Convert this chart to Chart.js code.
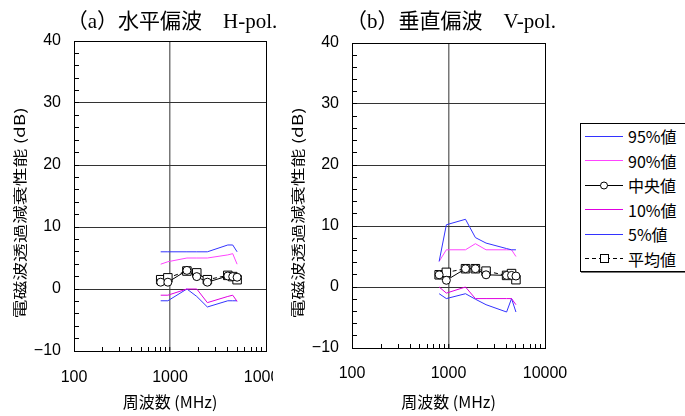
<!DOCTYPE html>
<html><head><meta charset="utf-8">
<script src="https://cdn.jsdelivr.net/npm/chart.js@4.4.0/dist/chart.umd.min.js"></script>
<style>
html,body{margin:0;padding:0;background:#fff;}
#wrap{position:relative;width:685px;height:416px;overflow:hidden;background:#fff;}
canvas{position:absolute;top:0;}
#cA{left:0;}
#cB{left:273px;}
.ttl{position:absolute;top:8px;line-height:26px;white-space:nowrap;font-size:21px;font-family:'Liberation Serif','Noto Sans CJK JP',serif;color:#000;transform:translateX(-50%);}
#legend{position:absolute;left:580px;top:123px;width:120px;border:1px solid #000;box-shadow:1px 1px 0 #777;background:#fff;}
#legend .row{display:flex;align-items:center;font:16px 'Noto Sans CJK JP',sans-serif;color:#000;}
#legend svg{margin-left:4px;margin-right:5px;flex:none;display:block;}
</style></head>
<body><div id="wrap">
<canvas id="cA" width="273" height="416"></canvas>
<canvas id="cB" width="300" height="416"></canvas>
<div class="ttl" id="tA" style="left:172px"></div>
<div class="ttl" id="tB" style="left:451px"></div>
<div id="legend"></div>
</div>
<script>
// ---- data ----
const freqMHz = [800, 950, 1500, 1900, 2450, 4000, 4500, 5000];
const seriesNames = ['95%値', '90%値', '中央値', '10%値', '5%値', '平均値'];
// (a) horizontal polarisation
const hP95  = [6.0, 6.0, 6.0, 6.0, 6.0, 7.1, 7.1, 6.0];
const hP90  = [4.0, 4.4, 5.0, 5.0, 5.0, 5.5, 5.7, 4.0];
const hMed  = [1.1, 1.1, 3.0, 2.0, 1.1, 2.1, 2.0, 1.9];
const hP10  = [-1.0, -1.0, 0.0, 0.0, -2.2, -1.2, -1.0, -2.0];
const hP5   = [-1.9, -1.9, 0.0, -1.2, -2.9, -1.9, -1.9, -1.9];
const hMean = [1.5, 1.8, 2.9, 2.6, 1.5, 2.2, 2.0, 1.5];
// (b) vertical polarisation
const vP95  = [4.2, 10.2, 11.1, 8.1, 7.2, 6.3, 6.1, 6.1];
const vP90  = [4.2, 6.1, 6.1, 7.1, 6.1, 6.1, 6.1, 5.0];
const vMed  = [2.0, 1.1, 3.0, 3.0, 2.0, 1.9, 1.9, 1.8];
const vP10  = [0.0, -1.0, 0.0, -1.9, -1.9, -1.9, -1.9, -2.9];
const vP5   = [-1.1, -1.9, -1.1, -2.0, -2.9, -4.1, -1.9, -4.1];
const vMean = [2.0, 2.4, 3.0, 3.0, 2.6, 1.9, 2.2, 1.2];
// ticks / labels
const xTickLabels = [100, 1000, 10000];
const xTickMarks = [100, 200, 300, 400, 500, 600, 700, 800, 900, 1000, 2000, 3000, 4000, 5000, 6000, 7000, 8000, 9000, 10000];
const yTickLabels = [-10, 0, 10, 20, 30, 40];
const titleA = '（a）水平偏波　H-pol.';
const titleB = '（b）垂直偏波　V-pol.';
const xTitle = '周波数 (MHz)';
const yTitle = '電磁波透過減衰性能 (dB)';

// ---- styles ----
const seriesStyle = [
  {color:'#3333ff', point:false, dash:[]},
  {color:'#ff44ff', point:false, dash:[]},
  {color:'#000000', point:'circle', radius:4, dash:[]},
  {color:'#e000e0', point:false, dash:[]},
  {color:'#3333ff', point:false, dash:[]},
  {color:'#000000', point:'rect', radius:6, dash:[4,3]}
];
const legendRowHeights = [24, 25, 24, 25, 24, 25];

function makeDatasets(arrs){
  return arrs.map((vals, i) => {
    const st = seriesStyle[i];
    return {
      label: seriesNames[i],
      data: freqMHz.map((f, k) => ({x: f, y: vals[k]})),
      borderColor: st.color,
      backgroundColor: '#ffffff',
      borderWidth: 1,
      borderDash: st.dash,
      pointStyle: st.point || 'circle',
      pointRadius: st.point ? st.radius : 0,
      pointBorderColor: st.color,
      pointBackgroundColor: '#ffffff',
      pointBorderWidth: 1,
      tension: 0,
      fill: false
    };
  });
}

const yTitlePlugin = {
  id: 'ytitle',
  afterDraw(chart, args, o){
    const ctx = chart.ctx;
    ctx.save();
    ctx.translate(o.x, o.y);
    ctx.rotate(-Math.PI/2);
    ctx.scale(1.35, 1);
    ctx.font = "14px 'Noto Sans CJK JP'";
    ctx.fillStyle = '#000';
    ctx.textAlign = 'center';
    ctx.textBaseline = 'middle';
    ctx.fillText(o.text, 0, 0);
    ctx.restore();
  }
};

function fmtY(v){ return v < 0 ? '\u2212' + Math.abs(v) : String(v); }

function makeChart(id, arrs, lay){
  return new Chart(document.getElementById(id), {
    type: 'line',
    data: {datasets: makeDatasets(arrs)},
    plugins: [yTitlePlugin],
    options: {
      responsive: false, animation: false, devicePixelRatio: 1,
      layout: {padding: {top: lay.top, right: lay.right, left: 0, bottom: 0}},
      plugins: {
        legend: {display: false}, tooltip: {enabled: false}, title: {display: false},
        ytitle: {x: lay.ytx, y: 213, text: yTitle}
      },
      scales: {
        x: {
          type: 'logarithmic', position: 'bottom', min: 100, max: 10000,
          afterBuildTicks: s => { s.ticks = xTickMarks.map(v => ({value: v})); },
          afterFit: s => { s.height = lay.xh; s.paddingLeft = 0; s.paddingRight = 0; },
          ticks: {autoSkip: false, maxRotation: 0, minRotation: 0, padding: lay.xpad, color: '#000',
                  font: {family: 'Liberation Sans', size: 16},
                  callback: v => xTickLabels.includes(v) ? String(v) : ''},
          grid: {drawTicks: true, tickLength: -4, tickColor: '#000', tickWidth: 1,
                 color: c => c.tick && c.tick.value === 1000 ? '#777777' : (c.tick && c.tick.value === 10000 ? '#000' : 'rgba(0,0,0,0)'),
                 lineWidth: c => c.tick && c.tick.value === 1000 ? 1.5 : 1},
          border: {color: '#000', width: 1},
          title: {display: true, text: xTitle, color: '#000', font: {family: 'Noto Sans CJK JP', size: 16}, padding: {top: 0, bottom: 4}}
        },
        y: {
          min: -10, max: 40,
          afterFit: s => { s.width = lay.yw; s.paddingTop = 0; s.paddingBottom = 0; },
          ticks: {stepSize: 2, autoSkip: false, padding: 18, color: '#000',
                  font: {family: 'Liberation Sans', size: 16},
                  callback: v => yTickLabels.includes(v) ? fmtY(v) : ''},
          grid: {drawTicks: true, tickLength: -5, tickColor: '#000', tickWidth: 1,
                 color: c => { const v = c.tick ? c.tick.value : null; if (v === 40) return '#000'; return (v === 0 || v === 10 || v === 20 || v === 30) ? '#333333' : 'rgba(0,0,0,0)'; },
                 lineWidth: 1},
          border: {color: '#000', width: 1}
        }
      }
    }
  });
}

makeChart('cA', [hP95, hP90, hMed, hP10, hP5, hMean], {top: 41, right: 7, xh: 65, yw: 74, xpad: 21, ytx: 20});
makeChart('cB', [vP95, vP90, vMed, vP10, vP5, vMean], {top: 43, right: 28, xh: 68, yw: 79, xpad: 20, ytx: 25});

document.getElementById('tA').textContent = titleA;
document.getElementById('tB').textContent = titleB;

// legend
const lg = document.getElementById('legend');
seriesNames.forEach((name, i) => {
  const st = seriesStyle[i];
  const rh = legendRowHeights[i];
  const sh = (rh % 2) ? 13 : 12;
  const row = document.createElement('div');
  row.className = 'row';
  row.style.height = rh + 'px';
  let marker = '';
  if (st.point === 'circle') marker = '<circle cx="19" cy="6.5" r="3.5" fill="#fff" stroke="#000" stroke-width="1"/>';
  if (st.point === 'rect') marker = '<rect x="15.5" y="2.5" width="8" height="8" fill="#fff" stroke="#000" stroke-width="1"/>';
  const dash = st.dash.length ? ' stroke-dasharray="' + st.dash.join(',') + '"' : '';
  row.innerHTML = '<svg width="38" height="' + sh + '"><line x1="0" y1="6.5" x2="38" y2="6.5" stroke="' + st.color + '" stroke-width="1" shape-rendering="crispEdges"' + dash + '/>' + marker + '</svg><span></span>';
  row.querySelector('span').textContent = name;
  lg.appendChild(row);
});
</script>
</body></html>
